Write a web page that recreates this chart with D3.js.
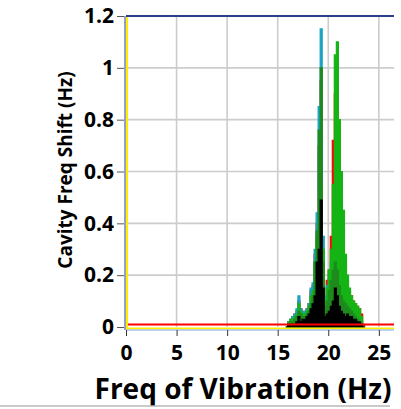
<!DOCTYPE html>
<html><head><meta charset="utf-8">
<script src="https://cdn.jsdelivr.net/npm/d3@7"></script>
<style>body{margin:0;background:#fff}svg{display:block}text{font-family:"Open Sans",sans-serif;font-weight:bold;fill:#000}</style>
</head><body>
<script>
const freq = [15.8,16.0,16.2,16.4,16.6,16.8,17.0,17.2,17.4,17.6,17.8,18.0,18.2,18.4,18.6,18.8,19.0,19.2,19.4,19.6,19.8,20.0,20.2,20.4,20.6,20.8,21.0,21.2,21.4,21.6,21.8,22.0,22.2,22.4,22.6,22.8,23.0,23.2,23.4,23.6];
const redS   = [0,0.02,0.03,0.04,0.05,0.06,0.10,0.07,0.06,0.06,0.07,0.09,0.14,0.16,0.28,0.40,0.70,0.95,0.30,0.12,0.18,0.22,0.35,0.72,0.90,0.95,0.58,0.50,0.38,0.24,0.18,0.14,0.12,0.10,0.09,0.08,0.07,0.05,0.01,0];
const tealS  = [0,0.02,0.03,0.04,0.05,0.07,0.12,0.07,0.06,0.06,0.07,0.09,0.15,0.17,0.30,0.44,0.85,1.15,0.35,0.12,0.16,0.20,0.25,0.30,0.40,0.35,0.28,0.22,0.18,0.15,0.13,0.12,0.10,0.09,0.07,0.06,0.04,0.02,0,0];
const greenS = [0,0.02,0.03,0.03,0.04,0.05,0.09,0.06,0.05,0.05,0.06,0.08,0.12,0.14,0.25,0.35,0.40,0.55,0.30,0.10,0.15,0.22,0.30,0.55,1.05,1.10,0.80,0.60,0.45,0.28,0.20,0.15,0.12,0.10,0.09,0.08,0.07,0.04,0,0];
const dgreenS= [0,0.01,0.02,0.02,0.03,0.04,0.06,0.05,0.04,0.04,0.05,0.06,0.09,0.12,0.25,0.37,0.76,1.00,0.25,0.08,0.10,0.14,0.18,0.22,0.25,0.22,0.16,0.12,0.10,0.09,0.08,0.07,0.06,0.05,0.04,0.03,0.02,0.01,0,0];
const blackS = [0,0.01,0.01,0.01,0.01,0.02,0.04,0.02,0.03,0.03,0.04,0.05,0.07,0.09,0.12,0.25,0.30,0.49,0.15,0.04,0.05,0.06,0.08,0.10,0.15,0.12,0.08,0.06,0.05,0.04,0.05,0.04,0.04,0.03,0.03,0.02,0.02,0.01,0,0];
const baseFreq = [0, 26.5];
const redBase = [0.01, 0.01];
const yellowBase = [0, 0];
const xTicks = [0,5,10,15,20,25];
const yTicks = [0,0.2,0.4,0.6,0.8,1,1.2];

const W=401,H=409;
const svg=d3.select("body").append("svg").attr("width",W).attr("height",H);
const x=d3.scaleLinear().domain([0,26.5]).range([126,394]);
const y=d3.scaleLinear().domain([0,1.2]).range([327,16]);

// grid
svg.append("g").selectAll("line").data(xTicks.filter(d=>d>0)).join("line")
  .attr("x1",d=>x(d)).attr("x2",d=>x(d)).attr("y1",y(1.2)).attr("y2",y(0))
  .attr("stroke","#cccccc").attr("stroke-width",1.6);
svg.append("g").selectAll("line").data(yTicks.filter(d=>d>0&&d<1.2)).join("line")
  .attr("x1",x(0)).attr("x2",x(26.5)).attr("y1",d=>y(d)).attr("y2",d=>y(d))
  .attr("stroke","#cccccc").attr("stroke-width",1.6);

// series
const series=[[redS,"#ff0000"],[tealS,"#1aa2c2"],[greenS,"#14b414"],[dgreenS,"#1e8a1e"],[blackS,"#000000"]];
const area=d3.area().x((d,i)=>x(freq[i])).y0(y(0)).y1(d=>y(d)).curve(d3.curveStepAfter);
series.forEach(([s,c])=>{
  svg.append("path").datum(s).attr("d",area).attr("fill",c).attr("stroke",c).attr("stroke-width",1.2);
});
const line=d3.line().x((d,i)=>x(baseFreq[i])).y(d=>y(d));
svg.append("path").datum(redBase).attr("d",line).attr("stroke","#ff0000").attr("stroke-width",2).attr("fill","none");
svg.append("path").datum(yellowBase).attr("d",line).attr("stroke","#ffee00").attr("stroke-width",2).attr("fill","none").attr("transform","translate(0,1.5)");

// borders
svg.append("line").attr("x1",x(0)).attr("x2",x(26.5)).attr("y1",y(1.2)).attr("y2",y(1.2)).attr("stroke","#2b3f8f").attr("stroke-width",2);
svg.append("line").attr("x1",x(0)-1).attr("x2",x(0)-1).attr("y1",y(1.2)).attr("y2",y(0)+3).attr("stroke","#2b3f8f").attr("stroke-width",1);
svg.append("line").attr("x1",x(0)+1).attr("x2",x(0)+1).attr("y1",y(1.2)+1).attr("y2",y(0)+2).attr("stroke","#ffee00").attr("stroke-width",2);
svg.append("line").attr("x1",x(0)).attr("x2",x(26.5)).attr("y1",y(0)+3).attr("y2",y(0)+3).attr("stroke","#a8c4e8").attr("stroke-width",1.5);

// axes
const xa=svg.append("g").attr("transform",`translate(0,${y(0)+3})`)
  .call(d3.axisBottom(x).tickValues(xTicks).tickSize(6).tickPadding(9).tickFormat(d3.format("d")));
xa.select(".domain").remove();
xa.selectAll("line").attr("stroke","#333");
xa.selectAll("text").style("font-size","21px").attr("fill","#000");
const ya=svg.append("g").attr("transform",`translate(${x(0)-2},0)`)
  .call(d3.axisLeft(y).tickValues(yTicks).tickSize(7).tickPadding(3).tickFormat(d=>String(d)));
ya.select(".domain").remove();
ya.selectAll("line").attr("stroke","#555");
ya.selectAll("text").style("font-size","21px").attr("fill","#000");

// titles
svg.append("text").attr("transform","translate(72,170) rotate(-90)").attr("text-anchor","middle")
  .style("font-size","19px").text("Cavity Freq Shift (Hz)");
svg.append("text").attr("x",243).attr("y",399).attr("text-anchor","middle")
  .style("font-size","28px").text("Freq of Vibration (Hz)");
svg.append("line").attr("x1",0).attr("x2",390).attr("y1",406).attr("y2",406).attr("stroke","#b8b8b8").attr("stroke-width",1.5);
</script>
</body></html>
